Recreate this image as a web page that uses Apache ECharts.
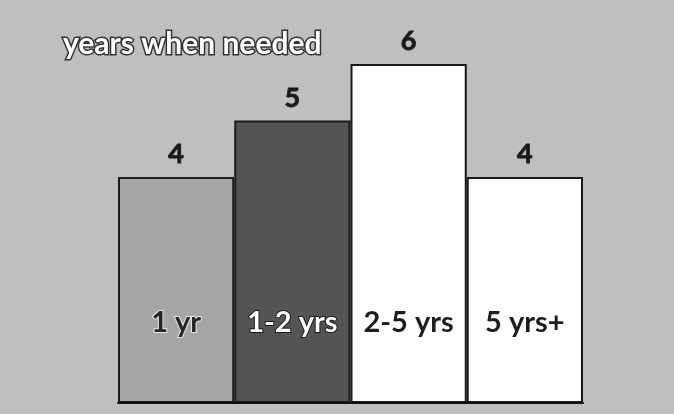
<!DOCTYPE html>
<html><head><meta charset="utf-8">
<script src="https://cdn.jsdelivr.net/npm/echarts@6/dist/echarts.min.js"></script>
<style>html,body{margin:0;padding:0;background:#fff}#c{width:674px;height:414px}</style>
</head><body><div id="c"></div>
<script>
const categories = ['1 yr', '1-2 yrs', '2-5 yrs', '5 yrs+'];
const values = [4, 5, 6, 4];
const barColors = ['#a6a6a6', '#545454', '#ffffff', '#ffffff'];
const titleText = 'years when needed';

const chart = echarts.init(document.getElementById('c'));
const labelKeys = ['a', 'b', 'c', 'c'];
chart.setOption({
  backgroundColor: '#bfbfbf',
  animation: false,
  title: {
    text: titleText, left: 58, top: 24,
    textStyle: { color: '#ffffff', fontSize: 30, fontWeight: 'bold', fontFamily: 'Lato',
      textBorderColor: '#333333', textBorderWidth: 3 }
  },
  grid: { left: 118, right: 91, top: 7.5, bottom: 11 },
  xAxis: {
    type: 'category', data: categories, z: 10,
    axisLine: { lineStyle: { color: '#111', width: 2 } },
    axisTick: { show: false },
    axisLabel: {
      inside: true, margin: 66,
      formatter: (v, i) => '{' + labelKeys[i] + '|' + v + '}',
      rich: {
        a: { color: '#262626', fontSize: 29, fontWeight: 'bold', fontFamily: 'Lato', textBorderColor: '#e6e6e6', textBorderWidth: 2 },
        b: { color: '#ffffff', fontSize: 29, fontWeight: 'bold', fontFamily: 'Lato', textBorderColor: '#1a1a1a', textBorderWidth: 2 },
        c: { color: '#1e1e1e', fontSize: 29, fontWeight: 'bold', fontFamily: 'Lato' }
      }
    }
  },
  yAxis: { type: 'value', min: 0, max: 7, show: false, splitLine: { show: false } },
  series: [{
    type: 'bar', barCategoryGap: 0,
    data: values.map((v, i) => ({ value: v, itemStyle: { color: barColors[i] } })),
    itemStyle: { borderColor: '#1a1a1a', borderWidth: 2 },
    label: { show: true, position: 'top', distance: 9, color: '#1a1a1a', fontSize: 27, fontWeight: 'bold', fontFamily: 'Lato',
      textBorderColor: '#1a1a1a', textBorderWidth: 0.8 }
  }]
});
</script></body></html>
